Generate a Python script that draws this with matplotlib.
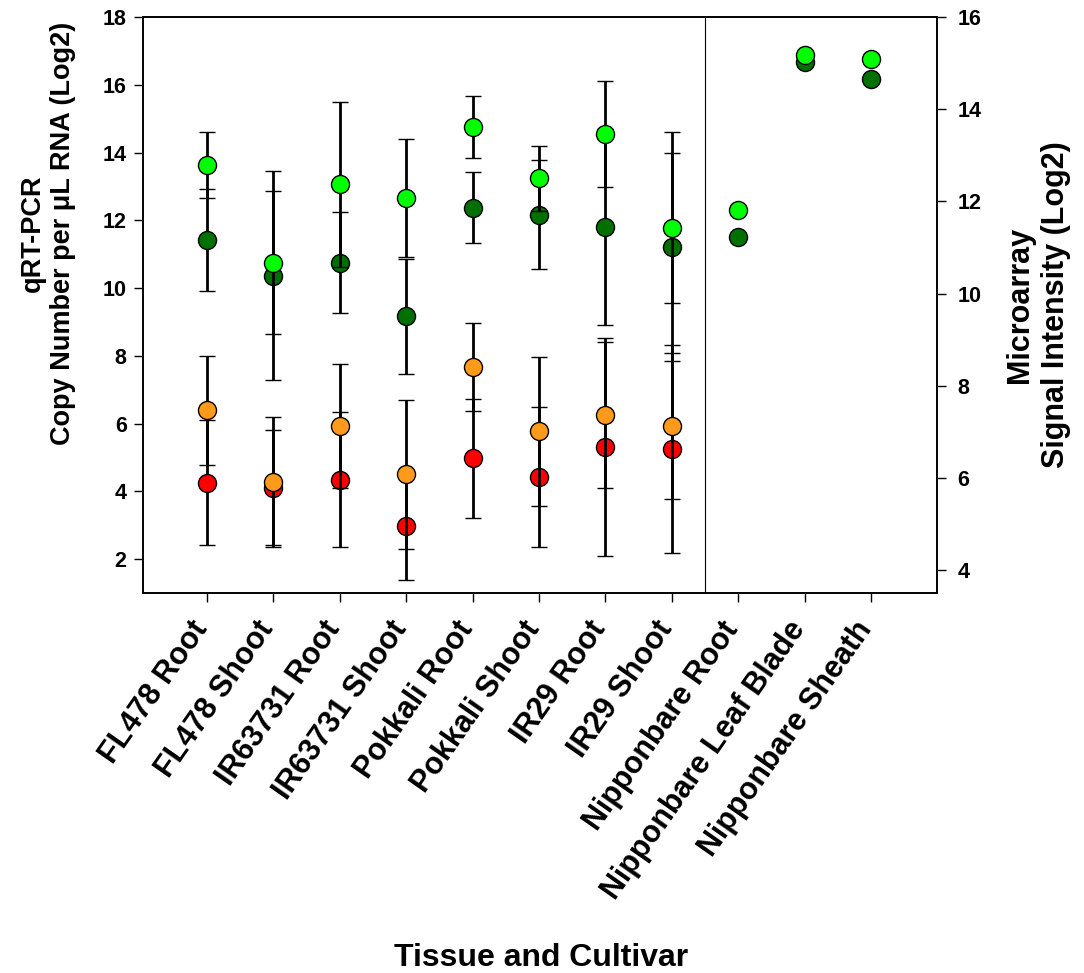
import matplotlib
matplotlib.use('Agg')
import numpy as np
import matplotlib.pyplot as plt
from matplotlib import transforms

plt.rcParams['font.family'] = ['Liberation Sans', 'DejaVu Sans']
plt.rcParams['font.weight'] = 'bold'

categories = ['FL478 Root', 'FL478 Shoot', 'IR63731 Root', 'IR63731 Shoot',
              'Pokkali Root', 'Pokkali Shoot', 'IR29 Root', 'IR29 Shoot',
              'Nipponbare Root', 'Nipponbare Leaf Blade', 'Nipponbare Sheath']

# qRT-PCR (log2 copy number), first 8 samples
pcr_red = [4.26, 4.11, 4.35, 2.98, 4.98, 4.42, 5.31, 5.24]
pcr_red_err = [1.84, 1.70, 2.00, 1.60, 1.76, 2.07, 3.23, 3.07]
pcr_orange = [6.39, 4.28, 5.93, 4.50, 7.67, 5.77, 6.25, 5.92]
pcr_orange_err = [1.62, 1.91, 1.84, 2.20, 1.31, 2.21, 2.16, 2.15]
pcr_dkgreen = [11.42, 10.37, 10.75, 9.17, 12.37, 12.17, 11.80, 11.22]
pcr_dkgreen_err = [1.51, 3.08, 1.49, 1.70, 1.05, 1.61, 2.90, 3.38]
pcr_ltgreen = [13.63, 10.75, 13.06, 12.65, 14.75, 13.24, 14.55, 11.78]
pcr_ltgreen_err = [0.98, 2.11, 2.43, 1.74, 0.91, 0.95, 1.56, 2.21]

# microarray signal intensity (log2), Nipponbare tissues
arr_dkgreen = [11.22, 15.02, 14.65]
arr_ltgreen = [11.82, 15.18, 15.09]

RED = '#ff0000'
ORANGE = '#ff9a1a'
DKGREEN = '#007000'
LTGREEN = '#00ff00'

fig = plt.figure(figsize=(10.84, 9.73), dpi=100)
ax = fig.add_axes([0.1316, 0.3905, 0.7331, 0.5920])
ax2 = ax.twinx()

x_pcr = np.arange(len(pcr_red))
x_arr = np.arange(len(pcr_red), len(categories))

ms = 13
ebkw = dict(fmt='o', ms=ms, mec='black', mew=1.0, ecolor='black',
            elinewidth=2.0, capsize=5.8, capthick=2.0)
for i, (vals, errs, col) in enumerate([(pcr_red, pcr_red_err, RED),
                                       (pcr_orange, pcr_orange_err, ORANGE),
                                       (pcr_dkgreen, pcr_dkgreen_err, DKGREEN),
                                       (pcr_ltgreen, pcr_ltgreen_err, LTGREEN)]):
    ax.errorbar(x_pcr, vals, yerr=errs, mfc=col, zorder=2 + i, **ebkw)

ax2.plot(x_arr, arr_dkgreen, 'o', ms=ms, mfc=DKGREEN, mec='black', mew=1.0, zorder=3)
ax2.plot(x_arr, arr_ltgreen, 'o', ms=ms, mfc=LTGREEN, mec='black', mew=1.0, zorder=4)

ax.axvline(7.5, color='black', lw=0.8)

ax.set_xlim(-0.97, 11.0)
ax.set_ylim(1.0, 18)
ax2.set_ylim(3.5, 16)
ax.set_yticks(np.arange(2, 19, 2))
ax2.set_yticks(np.arange(4, 17, 2))
ax.set_xticks(np.arange(len(categories)))
ax.set_xticklabels(categories, rotation=55, ha='right', va='top', fontsize=22)

for a in (ax, ax2):
    for s in a.spines.values():
        s.set_linewidth(1.2)
ax.tick_params(axis='y', direction='out', length=6.5, width=1, labelsize=15.5, pad=5)
ax2.tick_params(axis='y', direction='out', length=6.5, width=1, labelsize=15.5, pad=8)
ax.tick_params(axis='x', direction='out', length=6.5, width=1, pad=10)

shift = transforms.ScaledTranslation(0.07, 0, fig.dpi_scale_trans)
for lbl in ax.get_xticklabels():
    lbl.set_transform(lbl.get_transform() + shift)

fig.text(48 / 1084, 1 - 233 / 973, 'qRT-PCR\nCopy Number per \u03bcL RNA (Log2)',
         rotation=90, ha='center', va='center', ma='center', fontsize=19.5,
         fontweight='bold', linespacing=1.2)
fig.text(1038 / 1084, 1 - 305 / 973, 'Microarray\nSignal Intensity (Log2)',
         rotation=90, ha='center', va='center', ma='center', fontsize=22,
         fontweight='bold', linespacing=1.3)
fig.text(541 / 1084, 1 - 958 / 973, 'Tissue and Cultivar', ha='center', va='center',
         fontsize=23, fontweight='bold')

fig.savefig('out.png', dpi=100)
